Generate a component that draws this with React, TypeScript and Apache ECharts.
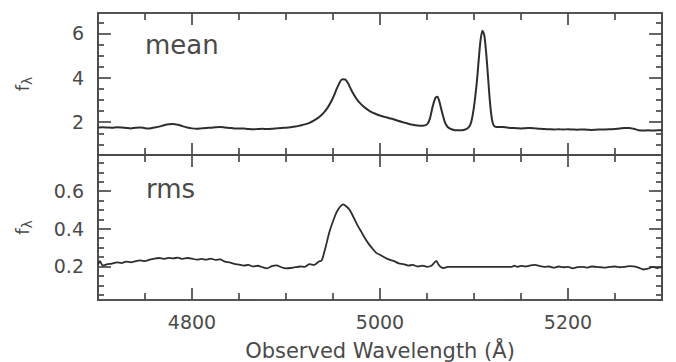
import React, { useEffect, useRef } from "react";
import * as echarts from "echarts";

// Mean spectrum (wavelength in Å, flux)
const meanWave = [
  4700, 4705, 4710, 4715, 4720, 4725, 4730, 4735, 4740, 4745, 4750, 4755, 4760, 4765, 4770, 4775, 4780, 4785, 4790, 4795,
  4800, 4805, 4810, 4815, 4820, 4825, 4830, 4835, 4840, 4845, 4850, 4855, 4860, 4865, 4870, 4875, 4880, 4885, 4890, 4895,
  4900, 4905, 4910, 4915, 4920, 4925, 4930, 4935, 4940, 4945, 4950, 4955, 4960, 4963, 4966, 4970, 4975, 4980, 4985, 4990,
  4995, 5000, 5005, 5010, 5015, 5020, 5025, 5030, 5035, 5040, 5045, 5050, 5053, 5056, 5059, 5061, 5063, 5066, 5069, 5072,
  5076, 5080, 5085, 5090, 5094, 5097, 5100, 5103, 5105, 5107, 5109, 5111, 5113, 5115, 5117, 5119, 5121, 5124, 5130, 5135,
  5140, 5145, 5150, 5155, 5160, 5165, 5170, 5175, 5180, 5185, 5190, 5195, 5200, 5205, 5210, 5215, 5220, 5225, 5230, 5235,
  5240, 5245, 5250, 5255, 5260, 5265, 5270, 5275, 5280, 5285, 5290, 5295, 5300,
];
const meanFlux = [
  1.76, 1.77, 1.76, 1.75, 1.77, 1.76, 1.74, 1.72, 1.75, 1.76, 1.73, 1.72, 1.76, 1.8, 1.86, 1.91, 1.92, 1.88, 1.82, 1.76,
  1.72, 1.7, 1.72, 1.74, 1.75, 1.77, 1.78, 1.76, 1.74, 1.72, 1.72, 1.71, 1.69, 1.68, 1.69, 1.7, 1.69, 1.7, 1.72, 1.74,
  1.75, 1.77, 1.8, 1.85, 1.9, 1.97, 2.08, 2.22, 2.42, 2.7, 3.1, 3.6, 3.93, 3.92, 3.75, 3.4, 3.05, 2.8, 2.62, 2.48,
  2.38, 2.3, 2.24, 2.18, 2.12, 2.05, 1.99, 1.93, 1.88, 1.85, 1.84, 1.9, 2.15, 2.7, 3.1, 3.15, 2.95, 2.45, 2.0, 1.78,
  1.68, 1.64, 1.63, 1.66, 1.75, 2.0, 2.7, 3.8, 4.8, 5.7, 6.12, 5.9, 5.1, 4.0, 2.9, 2.15, 1.85, 1.78, 1.78, 1.76,
  1.74, 1.73, 1.72, 1.73, 1.74, 1.72, 1.7, 1.69, 1.68, 1.67, 1.68, 1.67, 1.68, 1.67, 1.66, 1.67, 1.66, 1.65, 1.66, 1.67,
  1.67, 1.68, 1.69, 1.71, 1.74, 1.74, 1.7, 1.64, 1.62, 1.63, 1.62, 1.63, 1.64,
];

// RMS spectrum (wavelength in Å, flux)
const rmsWave = [
  4700, 4702, 4705, 4710, 4715, 4720, 4725, 4730, 4735, 4740, 4745, 4750, 4755, 4760, 4765, 4770, 4775, 4780, 4785, 4790,
  4795, 4800, 4805, 4810, 4815, 4820, 4825, 4830, 4835, 4840, 4845, 4850, 4855, 4860, 4865, 4870, 4875, 4880, 4885, 4890,
  4895, 4900, 4905, 4910, 4915, 4920, 4925, 4930, 4935, 4938, 4942, 4946, 4950, 4954, 4958, 4961, 4964, 4967, 4970, 4973,
  4976, 4980, 4984, 4988, 4992, 4996, 5000, 5005, 5010, 5015, 5020, 5025, 5030, 5035, 5040, 5045, 5050, 5055, 5058, 5060,
  5062, 5065, 5068, 5072, 5140, 5143, 5146, 5150, 5155, 5160, 5165, 5170, 5175, 5180, 5185, 5190, 5195, 5200, 5205, 5210,
  5215, 5220, 5225, 5230, 5235, 5240, 5245, 5250, 5255, 5260, 5265, 5270, 5275, 5280, 5285, 5290, 5295, 5300,
];
const rmsFlux = [
  0.21, 0.228, 0.205, 0.212, 0.215, 0.222, 0.218, 0.226, 0.222, 0.228, 0.232, 0.228, 0.236, 0.242, 0.245, 0.24, 0.246, 0.243, 0.247, 0.24,
  0.245, 0.242, 0.236, 0.24, 0.236, 0.242, 0.235, 0.238, 0.226, 0.222, 0.214, 0.21, 0.205, 0.208, 0.2, 0.204, 0.196, 0.19, 0.202, 0.206,
  0.196, 0.19, 0.192, 0.196, 0.2, 0.198, 0.212, 0.208, 0.226, 0.232, 0.3, 0.38, 0.44, 0.49, 0.52, 0.53, 0.52, 0.505, 0.48, 0.45,
  0.42, 0.385, 0.35, 0.32, 0.295, 0.272, 0.262, 0.248, 0.236, 0.228, 0.216, 0.212, 0.205, 0.208, 0.2, 0.205, 0.198, 0.205, 0.222, 0.23,
  0.212, 0.196, 0.192, 0.198, 0.198, 0.205, 0.198, 0.203, 0.2, 0.206, 0.208, 0.202, 0.198, 0.2, 0.194, 0.2, 0.196, 0.198, 0.19, 0.196,
  0.198, 0.194, 0.2, 0.198, 0.196, 0.194, 0.198, 0.2, 0.196, 0.198, 0.202, 0.2, 0.194, 0.184, 0.188, 0.198, 0.192, 0.196,
];

// Axis ticks / labels
const xMajor = [4800, 5000, 5200];
const xMinor = [4750, 4850, 4900, 4950, 5050, 5100, 5150, 5250];
const meanMajor = [2, 4, 6];
const meanMinor = [1, 1.5, 2.5, 3, 3.5, 4.5, 5, 5.5, 6.5];
const rmsMajor = [0.2, 0.4, 0.6];
const rmsMinor = [0.05, 0.1, 0.15, 0.25, 0.3, 0.35, 0.45, 0.5, 0.55, 0.65, 0.7, 0.75];
const xTitle = "Observed Wavelength (Å)";
const yTitle = "f{s|λ}";
const panelLabels = ["mean", "rms"];

const X_MIN = 4700;
const X_MAX = 5300;
const MEAN_RANGE = [0.52, 6.92];
const RMS_RANGE = [0.022, 0.792];

const AX = "#4a4a4a";
const TXT = "#4a4a4a";
const FONT = "DejaVu Sans";

function makeX(grid: number, pos: "top" | "bottom", values: number[], len: number, labels: boolean) {
  return {
    type: "value",
    gridIndex: grid,
    position: pos,
    min: X_MIN,
    max: X_MAX,
    axisLine: { show: true, onZero: false, lineStyle: { color: AX, width: 1.7 } },
    axisTick: { show: true, inside: true, length: len, customValues: values, lineStyle: { color: AX, width: 1.7 } },
    axisLabel: labels
      ? {
          show: true,
          customValues: xMajor,
          formatter: (v: number) => String(v),
          margin: 12,
          color: TXT,
          fontFamily: FONT,
          fontSize: 19,
        }
      : { show: false },
    splitLine: { show: false },
  };
}

function makeY(
  grid: number,
  pos: "left" | "right",
  range: number[],
  values: number[],
  len: number,
  labels: number[] | null,
  withName: boolean
) {
  const axis: any = {
    type: "value",
    gridIndex: grid,
    position: pos,
    min: range[0],
    max: range[1],
    axisLine: { show: true, onZero: false, lineStyle: { color: AX, width: 1.7 } },
    axisTick: { show: true, inside: true, length: len, customValues: values, lineStyle: { color: AX, width: 1.7 } },
    axisLabel: labels
      ? {
          show: true,
          customValues: labels,
          formatter: (v: number) => String(v),
          margin: 14,
          align: "right",
          color: TXT,
          fontFamily: FONT,
          fontSize: 19,
        }
      : { show: false },
    splitLine: { show: false },
  };
  if (withName) {
    axis.name = yTitle;
    axis.nameLocation = "middle";
    axis.nameRotate = 90;
    axis.nameGap = 64;
    axis.nameTextStyle = {
      color: TXT,
      fontFamily: FONT,
      fontSize: 18,
      rich: { s: { fontSize: 14, fontFamily: FONT, color: TXT, padding: [9, 0, 0, 0] } },
    };
  }
  return axis;
}

export default function App() {
  const ref = useRef<HTMLDivElement>(null);
  useEffect(() => {
    if (!ref.current) return;
    const chart = echarts.init(ref.current, null, { renderer: "svg" });
    const meanData = meanWave.map((w, i) => [w, meanFlux[i]]);
    const rmsData = rmsWave.map((w, i) => [w, rmsFlux[i]]);
    chart.setOption({
      animation: false,
      backgroundColor: "#ffffff",
      grid: [
        { left: 98, top: 13, width: 564, height: 142 },
        { left: 98, top: 155, width: 564, height: 145 },
      ],
      xAxis: [
        makeX(0, "bottom", xMinor, 7, false),
        makeX(0, "bottom", xMajor, 12, false),
        makeX(0, "top", xMinor, 7, false),
        makeX(0, "top", xMajor, 12, false),
        makeX(1, "bottom", xMinor, 7, false),
        makeX(1, "bottom", xMajor, 12, true),
        makeX(1, "top", xMinor, 7, false),
        makeX(1, "top", xMajor, 12, false),
      ],
      yAxis: [
        makeY(0, "left", MEAN_RANGE, meanMinor, 6, null, true),
        makeY(0, "left", MEAN_RANGE, meanMajor, 13, meanMajor, false),
        makeY(0, "right", MEAN_RANGE, meanMinor, 6, null, false),
        makeY(0, "right", MEAN_RANGE, meanMajor, 13, null, false),
        makeY(1, "left", RMS_RANGE, rmsMinor, 6, null, true),
        makeY(1, "left", RMS_RANGE, rmsMajor, 13, rmsMajor, false),
        makeY(1, "right", RMS_RANGE, rmsMinor, 6, null, false),
        makeY(1, "right", RMS_RANGE, rmsMajor, 13, null, false),
      ],
      series: [
        {
          type: "line",
          xAxisIndex: 0,
          yAxisIndex: 0,
          data: meanData,
          showSymbol: false,
          smooth: 0.3,
          lineStyle: { color: "#2e2e2e", width: 2 },
        },
        {
          type: "line",
          xAxisIndex: 4,
          yAxisIndex: 4,
          data: rmsData,
          showSymbol: false,
          smooth: 0.2,
          lineStyle: { color: "#2e2e2e", width: 1.8 },
        },
      ],
      graphic: [
        {
          type: "text",
          left: 145,
          top: 32,
          style: { text: panelLabels[0], fill: TXT, font: `26px '${FONT}'` },
        },
        {
          type: "text",
          left: 146,
          top: 176,
          style: { text: panelLabels[1], fill: TXT, font: `26px '${FONT}'` },
        },
        {
          type: "text",
          x: 380,
          y: 351,
          style: {
            text: xTitle,
            fill: TXT,
            font: `21px '${FONT}'`,
            align: "center",
            verticalAlign: "middle",
          },
        },
      ],
    });
    return () => chart.dispose();
  }, []);
  return (
    <div
      ref={ref}
      style={{ position: "absolute", left: 0, top: 0, width: 676, height: 362 }}
    />
  );
}
